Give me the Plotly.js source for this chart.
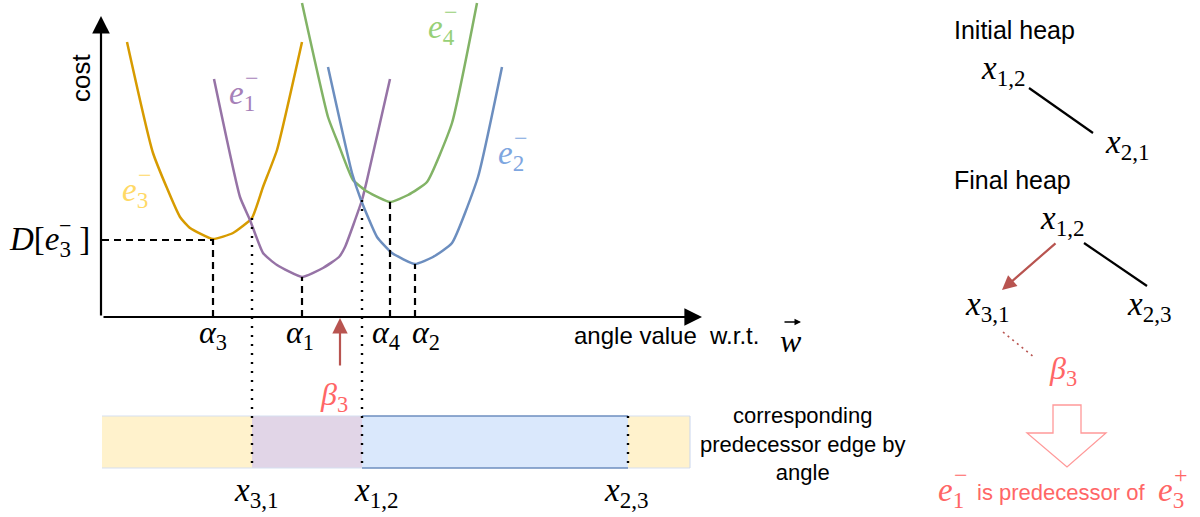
<!DOCTYPE html>
<html>
<head>
<meta charset="utf-8">
<script src="https://cdn.plot.ly/plotly-3.0.1.min.js"></script>
<style>html,body{margin:0;padding:0;background:#fff;}#chart{width:1200px;height:517px;}</style>
</head>
<body>
<div id="chart"></div>
<script>
// ---------- DATA (angle value w.r.t. w, cost) ----------
const angleE3 = [25, 51, 78, 88, 111, 131, 150, 161, 175, 200];
const costE3  = [275, 164, 100, 89, 78, 84, 99, 130, 167, 275];
const angleE1 = [112, 138, 148, 161, 175, 200, 221, 237, 243, 260, 265, 288];
const costE1  = [238, 120, 97, 64, 52, 40, 49, 60, 70, 117, 137, 238];
const angleE4 = [200, 226, 236, 251, 266, 288, 306, 325, 350, 375];
const costE4  = [314, 200, 174, 137, 125, 115, 122, 135, 194, 314];
const angleE2 = [226, 250, 259, 275, 290, 313, 331, 350, 376, 400];
const costE2  = [250, 144, 117, 80, 64, 53, 60, 74, 140, 250];

const alphaNames = ['<i>α</i><sub>3</sub>', '<i>α</i><sub>1</sub>', '<i>α</i><sub>4</sub>', '<i>α</i><sub>2</sub>'];
const alphaAngles = [111, 200, 288, 313];
const alphaMinCost = [78, 40, 115, 53];
const dValue = 77;                       // D[e3-]
const beta3 = 238;
const betaName = '<i>β</i><sub>3</sub>';
const boundaryNames = ['<i>x</i><sub>3,1</sub>', '<i>x</i><sub>1,2</sub>', '<i>x</i><sub>2,3</sub>'];
const boundaryAngles = [150, 260, 526];
const boundaryCrossCost = [99, 117, null];
const segStart = [0, 150, 260, 526];
const segEnd   = [150, 260, 526, 588];
const segEdge  = ['e3', 'e1', 'e2', 'e3'];

// ---------- STYLE ----------
const SANS = 'Liberation Sans, Arial, sans-serif';
const SERIF = 'Liberation Serif, Times New Roman, serif';
const lineCol = {e3: '#d79b00', e1: '#9673a6', e4: '#82b366', e2: '#6c8ebf'};
const textCol = {e3: '#FFD966', e1: '#A680B8', e4: '#97D077', e2: '#7EA6E0'};
const fillCol = {e3: '#fff2cc', e1: '#e1d5e7', e2: '#dae8fc'};
const RED = '#b85450', LRED = '#FF6666';

// pixel -> data helpers for layout placement
const PX = X => X - 102;
const PY = Y => 317 - Y;

function curve(a, c, key) {
  return {x: a, y: c, type: 'scatter', mode: 'lines', hoverinfo: 'skip',
    line: {color: lineCol[key], width: 2.5, shape: 'spline', smoothing: 0.45}};
}
const traces = [curve(angleE3, costE3, 'e3'), curve(angleE1, costE1, 'e1'),
                curve(angleE4, costE4, 'e4'), curve(angleE2, costE2, 'e2')];

const shapes = [];
const barTop = PY(416), barBot = PY(468);
segStart.forEach((s, i) => {
  shapes.push({type: 'rect', xref: 'x', yref: 'y', x0: s, x1: segEnd[i], y0: barBot, y1: barTop,
    fillcolor: fillCol[segEdge[i]], line: {width: 0}, layer: 'below'});
});
[0, 1, 3].forEach(i => {
  shapes.push({type: 'line', xref: 'x', yref: 'y', x0: segStart[i], x1: segEnd[i], y0: barTop, y1: barTop, line: {color: '#d5dff0', width: 1}});
  shapes.push({type: 'line', xref: 'x', yref: 'y', x0: segStart[i], x1: segEnd[i], y0: barBot, y1: barBot, line: {color: '#d5dff0', width: 1}});
});
shapes.push({type: 'line', xref: 'x', yref: 'y', x0: segEnd[3], x1: segEnd[3], y0: barBot, y1: barTop, line: {color: '#c9d6ee', width: 1}});
shapes.push({type: 'line', xref: 'x', yref: 'y', x0: segStart[2], x1: segEnd[2], y0: barTop, y1: barTop, line: {color: '#6c8ebf', width: 1.3}});
shapes.push({type: 'line', xref: 'x', yref: 'y', x0: segStart[2], x1: segEnd[2], y0: barBot, y1: barBot, line: {color: '#6c8ebf', width: 1.3}});

// dashed alpha lines
const DASH = {color: '#000', width: 2.2, dash: '7px,5px'};
alphaAngles.forEach((a, i) => {
  shapes.push({type: 'line', xref: 'x', yref: 'y', x0: a, x1: a, y0: 0, y1: alphaMinCost[i], line: DASH});
});
shapes.push({type: 'line', xref: 'x', yref: 'y', x0: 0, x1: alphaAngles[0], y0: dValue, y1: dValue, line: DASH});
// dotted boundaries
boundaryAngles.forEach((b, i) => {
  const top = boundaryCrossCost[i] === null ? barTop : boundaryCrossCost[i];
  shapes.push({type: 'line', xref: 'x', yref: 'y', x0: b, x1: b, y0: top, y1: barBot,
    line: {color: '#000', width: 2.4, dash: '2px,7px'}});
});

// heap lines
function seg(X0, Y0, X1, Y1, color, dash, w) {
  return {type: 'line', xref: 'x', yref: 'y', x0: PX(X0), y0: PY(Y0), x1: PX(X1), y1: PY(Y1),
    line: {color: color, width: w || 2, dash: dash || 'solid'}};
}
shapes.push(seg(1029, 88, 1093, 133, '#000', 'solid', 2.2));
shapes.push(seg(1084, 243, 1147, 286, '#000', 'solid', 2.2));
shapes.push(seg(1003, 332, 1035, 358, RED, '2px,4px', 1.6));

// hollow arrow
const hp = [[1053,405],[1081,405],[1081,433],[1106,433],[1067,467],[1027,433],[1053,433]];
shapes.push({type: 'path', xref: 'x', yref: 'y',
  path: 'M ' + hp.map(p => PX(p[0]) + ',' + PY(p[1])).join(' L ') + ' Z',
  fillcolor: 'rgba(0,0,0,0)', line: {color: '#ff9999', width: 1.3}});

// ---------- ANNOTATIONS ----------
const ann = [];
function txt(X, Y, text, size, color, family, xanchor, extra) {
  const o = {x: PX(X), y: PY(Y), xref: 'x', yref: 'y', text: text, showarrow: false,
    xanchor: xanchor || 'center', yanchor: 'middle',
    font: {family: family || SERIF, size: size, color: color || '#000'}};
  return Object.assign(o, extra || {});
}
function arrow(X0, Y0, X1, Y1, color, w, size) {
  return {x: PX(X1), y: PY(Y1), ax: PX(X0), ay: PY(Y0), xref: 'x', yref: 'y', axref: 'x', ayref: 'y',
    text: '', showarrow: true, arrowhead: 2, arrowsize: size || 1, arrowwidth: w || 2, arrowcolor: color};
}
function eLabel(X, Y, sub, sup, color, size) {
  ann.push(txt(X, Y, '<i>e</i><sub>' + sub + '</sub>', size, color, SERIF, 'left'));
  ann.push(txt(X + 0.47 * size, Y - 0.52 * size, sup, Math.round(size * 0.72), color, SERIF, 'left'));
}

// axes
ann.push(arrow(102, 317, 702, 317, '#000', 2.2, 1.6));
ann.push(arrow(101, 317, 101, 16, '#000', 2.2, 1.6));
ann.push(txt(81, 78, 'cost', 26, '#000', SANS, 'center', {textangle: -90}));
ann.push(txt(572, 335, 'angle value  w.r.t.', 24, '#000', SANS, 'left'));
ann.push(txt(791, 341, '<i>w</i>', 32, '#000', SERIF));
ann.push(arrow(783, 322, 801, 322, '#000', 1.3, 1));

// alpha labels
const alphaLabelX = [213, 300, 386, 426];
alphaNames.forEach((n, i) => ann.push(txt(alphaLabelX[i], 334, n, 32)));
// beta3 arrow and label
ann.push({x: beta3, y: PY(318), ax: beta3, ay: PY(367), xref: 'x', yref: 'y', axref: 'x', ayref: 'y',
  text: '', showarrow: true, arrowhead: 2, arrowsize: 1.4, arrowwidth: 2.2, arrowcolor: RED});
ann.push(txt(334, 396, betaName, 32, LRED));
// boundary labels
const bLabelX = [256, 376, 626];
boundaryNames.forEach((n, i) => ann.push(txt(bLabelX[i], 492, n, 33)));
// bar description
ann.push(txt(802, 444, 'corresponding<br>predecessor edge by<br>angle', 22, '#000', SANS, 'center', {align: 'center'}));

// D[e3-]
ann.push(txt(7, 241, '<i>D</i>[<i>e</i><sub>3</sub> ]', 33, '#000', SERIF, 'left'));
ann.push(txt(7 + 50, 225, '−', 22, '#000', SERIF, 'left'));

// curve labels
eLabel(227, 95, '1', '−', textCol.e1, 33);
eLabel(120, 192, '3', '−', textCol.e3, 33);
eLabel(426, 29, '4', '−', textCol.e4, 33);
eLabel(496, 155, '2', '−', textCol.e2, 33);

// heaps
ann.push(txt(952, 30, 'Initial heap', 25, '#000', SANS, 'left'));
ann.push(txt(1003, 70, '<i>x</i><sub>1,2</sub>', 33));
ann.push(txt(1127, 144, '<i>x</i><sub>2,1</sub>', 33));
ann.push(txt(952, 180, 'Final heap', 25, '#000', SANS, 'left'));
ann.push(txt(1062, 220, '<i>x</i><sub>1,2</sub>', 33));
ann.push(arrow(1057, 242, 1002, 290, RED, 2.2, 1.3));
ann.push(txt(987, 306, '<i>x</i><sub>3,1</sub>', 33));
ann.push(txt(1149, 306, '<i>x</i><sub>2,3</sub>', 33));
ann.push(txt(1063, 370, betaName, 32, LRED));

// conclusion
eLabel(936, 492, '1', '−', LRED, 33);
ann.push(txt(975, 492, 'is predecessor of', 22, LRED, SANS, 'left'));
eLabel(1156, 492, '3', '+', LRED, 33);

const layout = {
  width: 1200, height: 517, margin: {l: 0, r: 0, t: 0, b: 0},
  paper_bgcolor: '#fff', plot_bgcolor: '#fff', showlegend: false,
  xaxis: {range: [PX(0), PX(1200)], visible: false, fixedrange: true},
  yaxis: {range: [PY(517), PY(0)], visible: false, fixedrange: true},
  shapes: shapes, annotations: ann
};
Plotly.newPlot('chart', traces, layout, {staticPlot: true, displayModeBar: false});
</script>
</body>
</html>
